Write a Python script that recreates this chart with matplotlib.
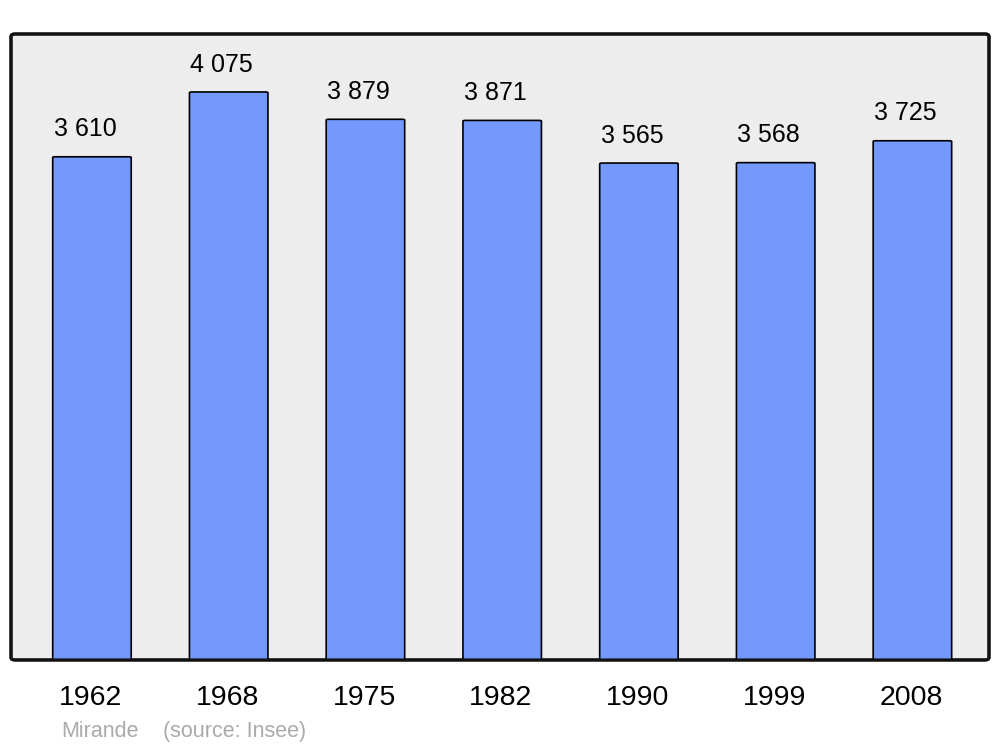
import matplotlib
matplotlib.use("Agg")
import matplotlib.pyplot as plt
from matplotlib.patches import FancyBboxPatch

years = ["1962", "1968", "1975", "1982", "1990", "1999", "2008"]
population = [3610, 4075, 3879, 3871, 3565, 3568, 3725]
commune = "Mirande"
source = "(source: Insee)"

plt.rcParams['font.family'] = ['Liberation Sans', 'DejaVu Sans']

fig = plt.figure(figsize=(10, 7.47), dpi=100)
ax = fig.add_axes([0.011, 0.1165, 0.978, 0.838])
ax.set_xlim(-0.592, 6.56)
ax.set_ylim(0, 4491)
ax.axis('off')

# rounded gray frame
frame = FancyBboxPatch((0, 0), 1, 1, boxstyle="round,pad=0,rounding_size=0.004",
                       transform=ax.transAxes, facecolor='#ededed',
                       edgecolor='#111111', linewidth=2.2, zorder=0, clip_on=False)
ax.add_patch(frame)

xs = range(len(years))
for x, v in zip(xs, population):
    bar = FancyBboxPatch((x - 0.287, 0), 0.574, v,
                         boxstyle="round,pad=0,rounding_size=0.015",
                         mutation_aspect=4491 / 7.15 * 0.66,
                         facecolor='#7399ff', edgecolor='black',
                         linewidth=1.2, zorder=2)
    ax.add_patch(bar)
    label = f"{v:,}".replace(",", " ")
    ax.text(x - 0.05, v + 196, label, ha='center', va='center',
            fontsize=18, color='black', zorder=3)

# redraw frame border on top
border = FancyBboxPatch((0, 0), 1, 1, boxstyle="round,pad=0,rounding_size=0.004",
                        transform=ax.transAxes, facecolor='none',
                        edgecolor='#111111', linewidth=2.2, zorder=4, clip_on=False)
ax.add_patch(border)

for x, y in zip(xs, years):
    ax.text(x - 0.01, -272, y, ha='center', va='center', fontsize=20.5,
            color='black', clip_on=False)

fig.text(0.061, 0.0134, commune, fontsize=15.5, color='#aaaaaa', ha='left', va='baseline')
fig.text(0.163, 0.0134, source, fontsize=15.5, color='#aaaaaa', ha='left', va='baseline')

fig.savefig("out.png", dpi=100)
